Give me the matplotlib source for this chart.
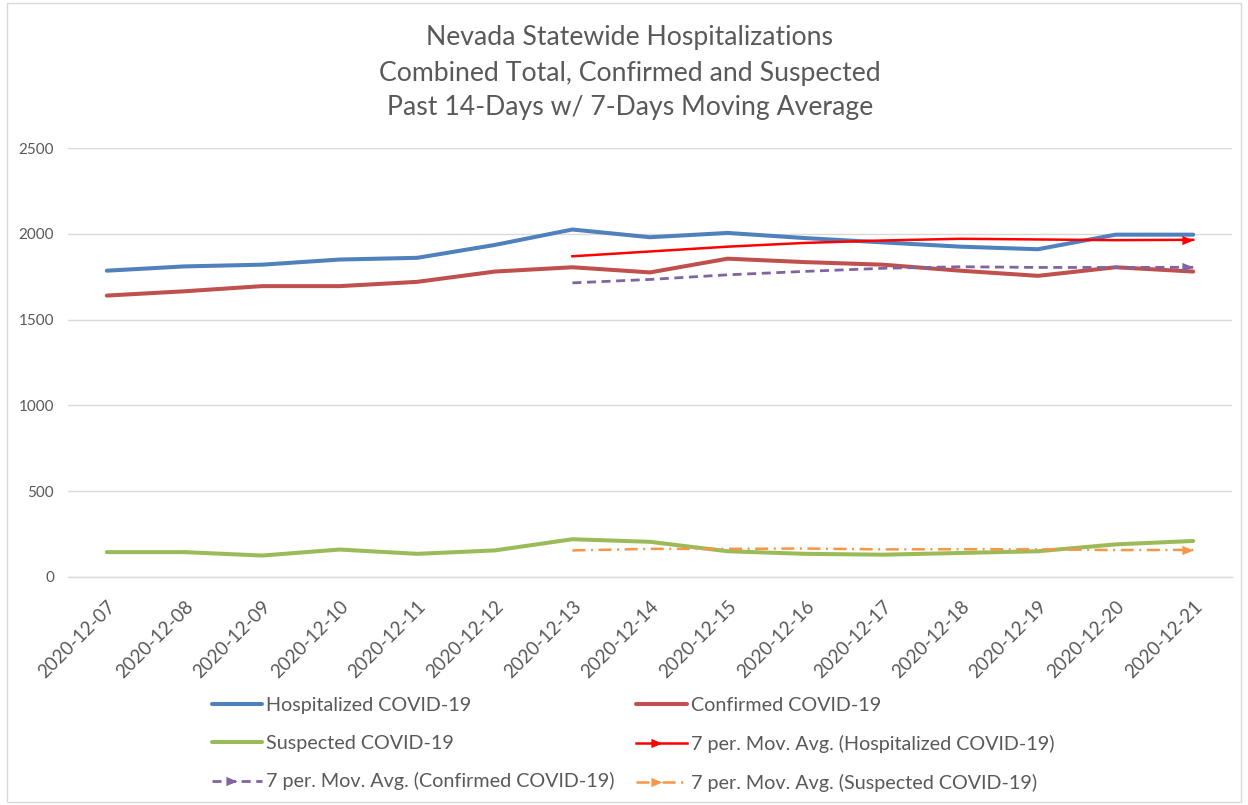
import matplotlib
matplotlib.use("Agg")
import matplotlib.pyplot as plt
from matplotlib.patches import Rectangle
from matplotlib.markers import MarkerStyle

plt.rcParams['font.family'] = ['Lato', 'DejaVu Sans']
plt.rcParams['lines.scale_dashes'] = False

dates = ["2020-12-07", "2020-12-08", "2020-12-09", "2020-12-10", "2020-12-11",
         "2020-12-12", "2020-12-13", "2020-12-14", "2020-12-15", "2020-12-16",
         "2020-12-17", "2020-12-18", "2020-12-19", "2020-12-20", "2020-12-21"]
hospitalized = [1785, 1810, 1820, 1850, 1860, 1935, 2025, 1980, 2005, 1975,
                1950, 1925, 1910, 1995, 1995]
confirmed = [1640, 1665, 1695, 1695, 1720, 1780, 1805, 1775, 1855, 1835,
             1820, 1785, 1755, 1805, 1780]
suspected = [145, 145, 125, 160, 135, 155, 220, 205, 150, 135,
             130, 140, 150, 190, 210]
# 7-period moving averages (start on the 7th day)
ma_hospitalized = [1869, 1897, 1925, 1947, 1961, 1971, 1967, 1963, 1965]
ma_confirmed = [1714, 1734, 1761, 1781, 1799, 1808, 1804, 1804, 1805]
ma_suspected = [155, 164, 164, 166, 161, 162, 161, 157, 158]
yticks = [0, 500, 1000, 1500, 2000, 2500]

W, H = 1248, 805
fig = plt.figure(figsize=(W / 100, H / 100), dpi=100)
fig.patch.set_facecolor('white')
fig.patches.append(Rectangle((7 / W, 3 / H), (1241 - 7) / W, (802 - 3) / H,
                             transform=fig.transFigure, fill=False,
                             edgecolor='#d9d9d9', linewidth=1.0))

ax = fig.add_axes([68 / W, 1 - 577 / H, (1232 - 68) / W, (577 - 148) / H])
x = list(range(len(dates)))
xm = x[6:]

# arrow head with its tip on the data point
arrow = MarkerStyle([(0, 0), (-1.2, 0.5), (-1.2, -0.5), (0, 0)])

text_col = '#595959'
l_h, = ax.plot(x, hospitalized, color='#4F81BD', lw=2.9, solid_capstyle='round',
               label='Hospitalized COVID-19', zorder=3)
l_c, = ax.plot(x, confirmed, color='#C0504D', lw=2.9, solid_capstyle='round',
               label='Confirmed COVID-19', zorder=3)
l_s, = ax.plot(x, suspected, color='#9BBB59', lw=2.9, solid_capstyle='round',
               label='Suspected COVID-19', zorder=3)
m_h, = ax.plot(xm, ma_hospitalized, color='#FF0000', lw=1.8,
               marker=arrow, markevery=[-1], markersize=16, markeredgewidth=0,
               label='7 per. Mov. Avg. (Hospitalized COVID-19)', zorder=4)
m_c, = ax.plot(xm, ma_confirmed, color='#8064A2', lw=2.0, dashes=(6.5, 4.0),
               marker=arrow, markevery=[-1], markersize=16, markeredgewidth=0,
               label='7 per. Mov. Avg. (Confirmed COVID-19)', zorder=4)
m_s, = ax.plot(xm, ma_suspected, color='#F79646', lw=1.8, dashes=(9.4, 4.0, 1.4, 4.0),
               marker=arrow, markevery=[-1], markersize=16, markeredgewidth=0,
               label='7 per. Mov. Avg. (Suspected COVID-19)', zorder=4)

ax.set_xlim(-0.5, 14.5)
ax.set_ylim(0, 2500)
ax.set_yticks(yticks)
ax.set_yticklabels([str(v) for v in yticks])
ax.set_xticks(x)
ax.set_xticklabels(dates, rotation=45, ha='right', va='top', rotation_mode='anchor')
ax.grid(axis='y', color='#d9d9d9', linewidth=1.0)
ax.set_axisbelow(True)
for s in ['top', 'right', 'left']:
    ax.spines[s].set_visible(False)
ax.spines['bottom'].set_color('#d9d9d9')
ax.spines['bottom'].set_linewidth(1.0)
ax.tick_params(axis='both', length=0, colors=text_col)
ax.tick_params(axis='y', labelsize=11, pad=10)
ax.tick_params(axis='x', labelsize=13.5, pad=15)

title_lines = ["Nevada Statewide Hospitalizations",
               "Combined Total, Confirmed and Suspected",
               "Past 14-Days w/ 7-Days Moving Average"]
for i, t in enumerate(title_lines):
    fig.text(630 / W, 1 - (38 + 35 * i) / H, t, ha='center', va='center',
             fontsize=19.2, color=text_col)

handles = [l_h, l_s, m_c, l_c, m_h, m_s]
leg = fig.legend(handles=handles, labels=[h.get_label() for h in handles],
                 ncol=2, loc='upper left', bbox_to_anchor=(212 / W, 1 - 697 / H),
                 frameon=False, fontsize=14.2, handlelength=2.55, handletextpad=0.2,
                 columnspacing=1.1, labelspacing=1.05, borderpad=0, borderaxespad=0,
                 numpoints=1)
for t in leg.get_texts():
    t.set_color(text_col)

fig.savefig('out.png', dpi=100, facecolor='white')
